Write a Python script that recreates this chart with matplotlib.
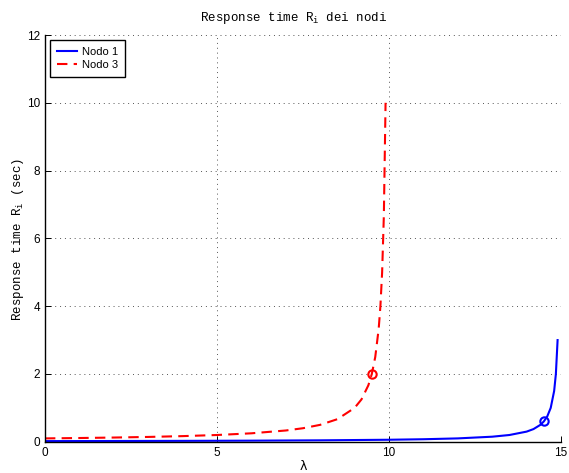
import matplotlib
matplotlib.use("Agg")
import matplotlib.pyplot as plt

# Nodo 1 (blue, solid)
lam1 = [0, 2, 4, 6, 8, 10, 11, 12, 13, 13.5, 14, 14.2, 14.4, 14.5, 14.6, 14.7, 14.8, 14.85, 14.9]
r1 = [0.02, 0.023, 0.027, 0.033, 0.043, 0.06, 0.075, 0.1, 0.15, 0.2, 0.3, 0.375, 0.5, 0.6, 0.75, 1.0, 1.5, 2.0, 3.0]
# Nodo 3 (red, dashed)
lam3 = [0, 1, 2, 3, 4, 5, 6, 7, 7.5, 8, 8.5, 9, 9.2, 9.4, 9.5, 9.6, 9.7, 9.75, 9.8, 9.85, 9.9]
r3 = [0.1, 0.111, 0.125, 0.143, 0.167, 0.2, 0.25, 0.333, 0.4, 0.5, 0.667, 1.0, 1.25, 1.667, 2.0, 2.5, 3.333, 4.0, 5.0, 6.667, 10.0]
# marked points
mark1 = (14.5, 0.6)
mark3 = (9.5, 2.0)

labels = ["Nodo 1", "Nodo 3"]
xticks = [0, 5, 10, 15]
yticks = [0, 2, 4, 6, 8, 10, 12]

fig = plt.figure(figsize=(5.69, 4.73), dpi=100)
ax = fig.add_axes([0.079, 0.066, 0.907, 0.86])

ax.plot(lam1, r1, color="#0000ff", lw=1.5, label=labels[0])
ax.plot(lam3, r3, color="#ff0000", lw=1.5, ls=(0, (5, 3)), label=labels[1])
ax.plot([mark1[0]], [mark1[1]], marker="o", mfc="none", mec="#0000ff", ms=6, mew=1.5)
ax.plot([mark3[0]], [mark3[1]], marker="o", mfc="none", mec="#ff0000", ms=6, mew=1.5)

ax.set_xlim(0, 15)
ax.set_ylim(0, 12)
ax.set_xticks(xticks)
ax.set_yticks(yticks)
ax.tick_params(which="major", direction="in", length=4, labelsize=8.5, width=0.7)
for lbl in ax.get_xticklabels() + ax.get_yticklabels():
    lbl.set_family("Liberation Sans")

ax.grid(True, which="major", color="#555555", ls=(0, (1, 4)), lw=0.7)
for s in ["top", "right"]:
    ax.spines[s].set_visible(False)
for s in ["left", "bottom"]:
    ax.spines[s].set_linewidth(1.0)

ax.set_title("Response time R$_{\\mathregular{i}}$ dei nodi", family="Liberation Mono", fontsize=9, pad=10, x=0.482)
ax.set_ylabel("Response time R$_{\\mathregular{i}}$ (sec)", family="Liberation Mono", fontsize=9)
ax.yaxis.set_label_coords(-0.036, 0.497)
ax.set_xlabel("λ", family="DejaVu Sans", fontsize=9, labelpad=1)

leg = ax.legend(loc="upper left", prop={"family": "Liberation Sans", "size": 8},
                fancybox=False, framealpha=1, edgecolor="black", borderpad=0.6,
                handlelength=1.8, handletextpad=0.5, labelspacing=0.3, borderaxespad=0.45)
leg.get_frame().set_linewidth(1.0)

fig.savefig("out.png", dpi=100)
